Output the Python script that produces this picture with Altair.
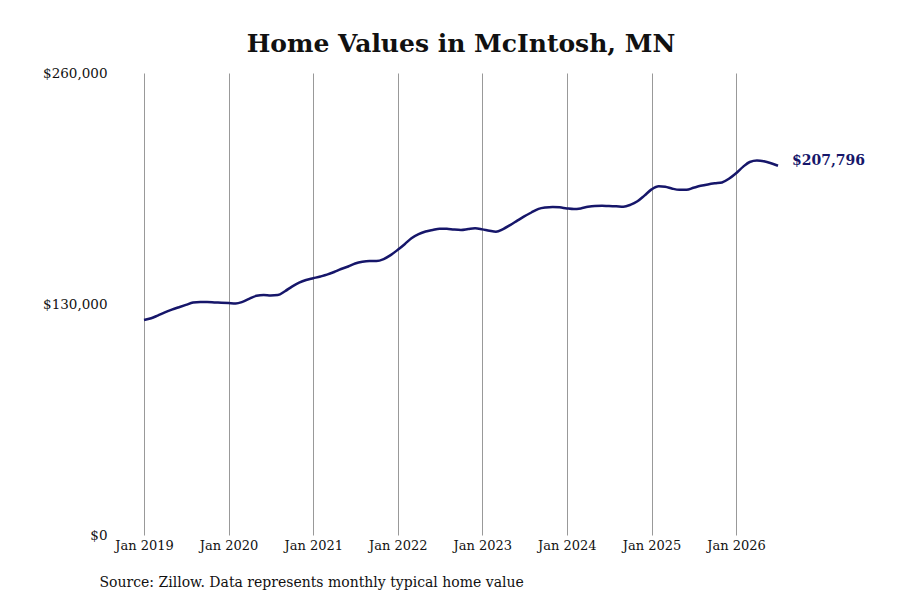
import altair as alt
import pandas as pd

# monthly typical home value, Jan 2019 - Jul 2026
months = pd.date_range("2019-01-01", "2026-07-01", freq="MS")
values = [
    121000, 122000, 123500, 125300, 126800, 128200, 129500, 130800, 131100, 131100, 130900, 130700,
    130500, 130300, 131200, 133000, 134600, 135000, 134800, 135000, 137200, 139800, 142000, 143500,
    144500, 145500, 146500, 148000, 149700, 151100, 152800, 153800, 154200, 154200, 155300, 157500,
    160500, 163800, 167000, 169300, 170800, 171700, 172400, 172300, 171900, 171700, 172200, 172600,
    172000, 171200, 170700, 172200, 174400, 176900, 179300, 181500, 183500, 184300, 184600, 184400,
    183800, 183400, 183800, 184700, 185200, 185300, 185100, 185000, 184800, 185800, 187800, 191000,
    194500, 196300, 196000, 194900, 194300, 194300, 195400, 196500, 197300, 197900, 198400, 200500,
    203600, 207300, 209900, 210700, 210300, 209200, 207796,
]
y_ticks = [0, 130000, 260000]
last_label = ["$207,796"]

df = pd.DataFrame({"date": months, "value": values})
last = df.tail(1).assign(label=last_label)

FONT = "DejaVu Serif"
NAVY = "#16166a"

x_enc = alt.X(
    "date:T",
    scale=alt.Scale(domain=[months[0].isoformat(), months[-1].isoformat()]),
    axis=alt.Axis(
        format="%b %Y", tickCount="year", grid=True, gridColor="#999999", gridWidth=1,
        domain=False, ticks=False, labelPadding=4, labelFontSize=13, labelFont=FONT,
        labelColor="#111111", labelOverlap=False, labelFlush=False,
        title="Source: Zillow. Data represents monthly typical home value",
        titleFont=FONT, titleFontSize=14, titleFontWeight="normal", titleColor="#111111",
        titleAnchor="start", titleAlign="left", titleX=-45, titleY=40,
    ),
)
y_enc = alt.Y(
    "value:Q",
    scale=alt.Scale(domain=[0, 260000]),
    axis=alt.Axis(
        values=y_ticks, format="$,.0f", grid=False, domain=False, ticks=False,
        labelPadding=37, labelFontSize=13.5, labelFont=FONT, labelColor="#111111", title=None,
    ),
)

line = alt.Chart(df).mark_line(color=NAVY, strokeWidth=2.5, interpolate="monotone").encode(
    x=x_enc, y=y_enc
)

label = alt.Chart(last).mark_text(
    align="left", dx=14, dy=-5, font=FONT, fontSize=14, fontWeight="bold", color=NAVY
).encode(x="date:T", y="value:Q", text="label:N")

chart = (line + label).properties(
    width=634,
    height=462,
    autosize=alt.AutoSizeParams(type="none"),
    padding={"left": 136, "top": 65, "right": 110, "bottom": 60},
    title=alt.TitleParams(
        "Home Values in McIntosh, MN", font=FONT, fontSize=25, fontWeight="bold",
        color="#111111", anchor="middle", offset=9,
    ),
).configure_view(stroke=None)

chart.save("out.html", embed_options={"renderer": "svg", "actions": False})
